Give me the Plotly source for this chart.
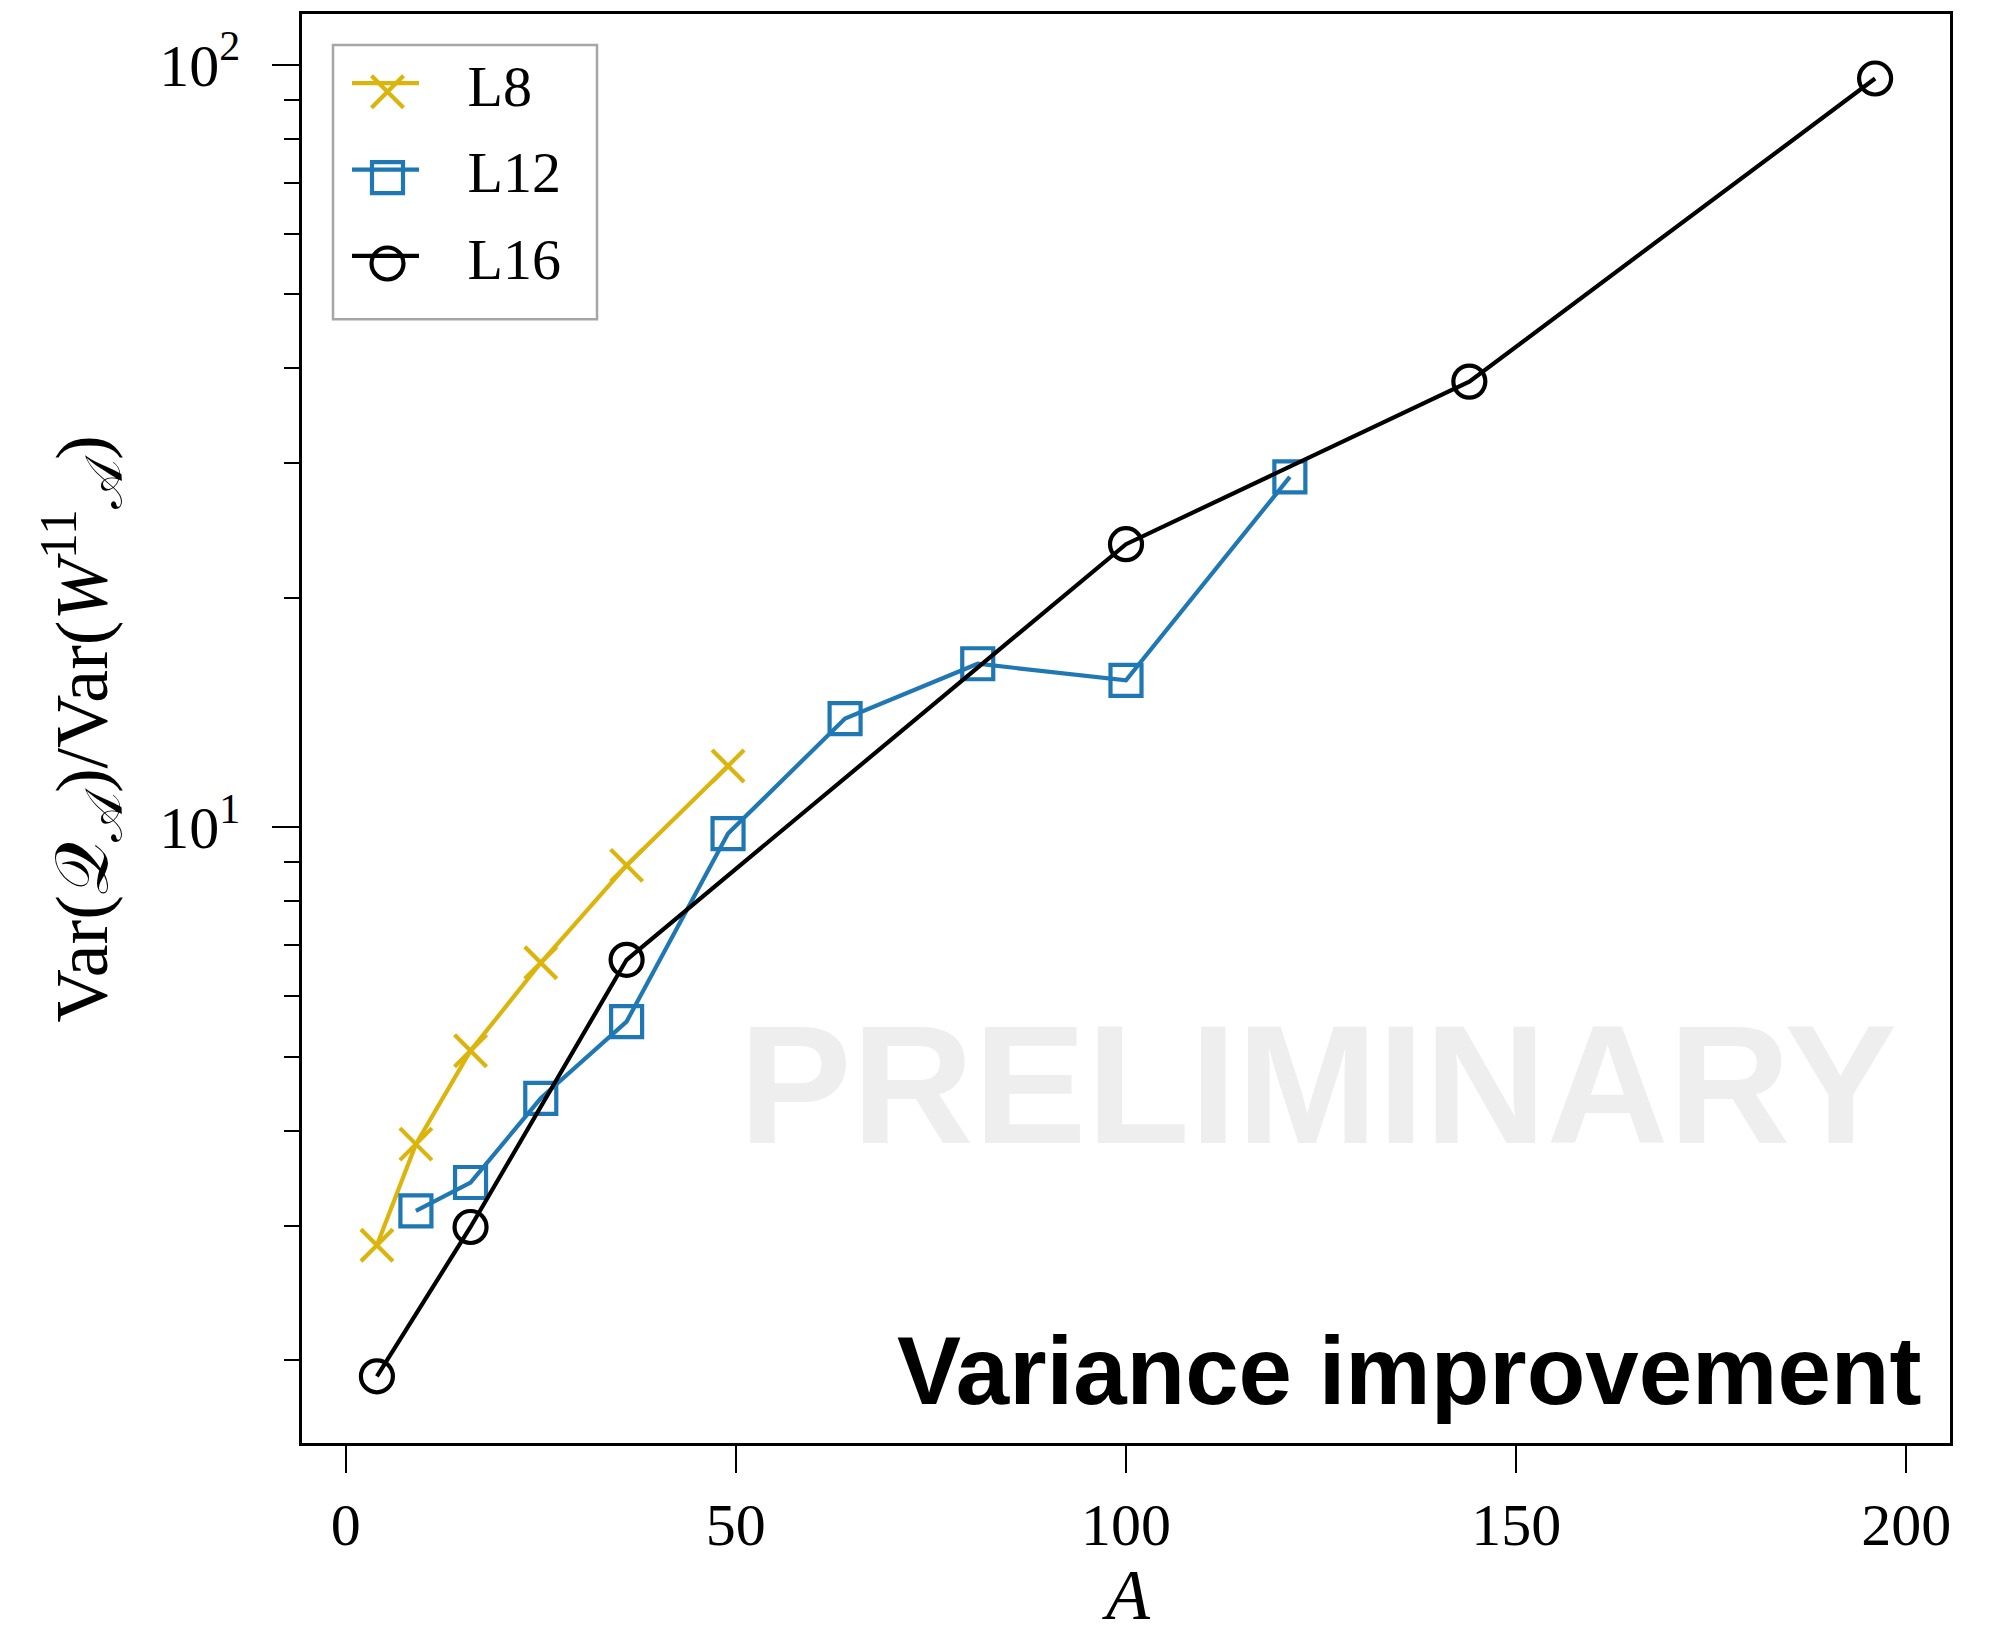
import plotly.graph_objects as go

# ---- data ----
A_L8 = [4, 9, 16, 25, 36, 49]
R_L8 = [2.83, 3.84, 5.09, 6.64, 8.91, 12.03]

A_L12 = [9, 16, 25, 36, 49, 64, 81, 100, 121]
R_L12 = [3.14, 3.42, 4.41, 5.56, 9.81, 13.88, 16.38, 15.58, 28.8]

A_L16 = [4, 16, 36, 100, 144, 196]
R_L16 = [1.905, 2.99, 6.70, 23.5, 38.4, 95.9]

SERIES_NAMES = ["L8", "L12", "L16"]

X_TICKS = [0, 50, 100, 150, 200]
Y_TICKS = [10, 100]
Y_TICKTEXT = ["10<sup>1</sup>", "10<sup>2</sup>"]
Y_MINOR = [2, 3, 4, 5, 6, 7, 8, 9, 20, 30, 40, 50, 60, 70, 80, 90, 200]

GOLD = "#DBB40C"
BLUE = "#1F77B4"
BLACK = "#000000"
SERIF = "Liberation Serif, DejaVu Serif, serif"
SANS = "Liberation Sans, Arial, sans-serif"
LW = 4.2

L, R, T, B = 302, 58, 11, 195
W, H = 2008, 1638
PW, PH = W - L - R, H - T - B


def px(x):
    return (x - L) / PW


def py(y):
    return (H - B - y) / PH


fig = go.Figure()

styles = [
    (GOLD, "x-thin-open", 32),
    (BLUE, "square-open", 31),
    (BLACK, "circle-open", 32),
]
data = [(A_L8, R_L8), (A_L12, R_L12), (A_L16, R_L16)]

# data traces
for name, (xs, ys), (col, sym, size) in zip(SERIES_NAMES, data, styles):
    fig.add_trace(go.Scatter(
        x=xs, y=ys, name=name, legendgroup=name, showlegend=False,
        mode="lines+markers",
        line=dict(color=col, width=LW),
        marker=dict(symbol=sym, size=size, color=col,
                    line=dict(color=col, width=LW)),
    ))

# legend entries (line sample + label)
for name, (col, sym, size) in zip(SERIES_NAMES, styles):
    fig.add_trace(go.Scatter(
        x=[None], y=[None], name="\u00a0\u00a0\u00a0" + name, legendgroup=name,
        showlegend=True, mode="lines",
        line=dict(color=col, width=LW),
    ))

# full-size legend markers drawn over the legend line samples
LEG_X = 387.5
LEG_ROWS = [89, 175, 261]
for (col, sym, size), ry in zip(styles, LEG_ROWS):
    fig.add_trace(go.Scatter(
        x=[px(LEG_X)], y=[py(ry)], xaxis="x2", yaxis="y2",
        mode="markers", showlegend=False, hoverinfo="skip",
        marker=dict(symbol=sym, size=size, color=col,
                    line=dict(color=col, width=LW)),
    ))

fig.update_layout(
    width=W, height=H,
    margin=dict(l=L, r=R, t=T, b=B, pad=0),
    paper_bgcolor="white", plot_bgcolor="white",
    font=dict(family=SERIF, color="black", size=60),
    showlegend=True,
    legend=dict(
        x=px(347), y=py(36), xanchor="left", yanchor="top",
        bgcolor="rgba(0,0,0,0)", borderwidth=0,
        font=dict(family=SERIF, size=58, color="black"),
        itemwidth=67, tracegroupgap=8,
    ),
    shapes=[
        dict(type="rect", xref="paper", yref="paper",
             x0=px(333), x1=px(597), y0=py(317), y1=py(42),
             line=dict(color="#a6a6a6", width=2.5), fillcolor="white",
             layer="below"),
    ],
    xaxis=dict(
        range=[-5.6, 205.6], tickmode="array", tickvals=X_TICKS,
        ticks="outside", ticklen=27, tickwidth=2, tickcolor="black",
        showline=True, linewidth=2.5, linecolor="black", mirror=True,
        showgrid=False, zeroline=False,
        tickfont=dict(family=SERIF, size=60, color="black"),
        ticklabelstandoff=0,
    ),
    yaxis=dict(
        type="log", range=[0.1924, 2.0664],
        tickmode="array", tickvals=Y_TICKS, ticktext=Y_TICKTEXT,
        ticks="outside", ticklen=27, tickwidth=2, tickcolor="black",
        minor=dict(tickmode="array", tickvals=Y_MINOR, ticks="outside",
                   ticklen=15, tickwidth=2, tickcolor="black", showgrid=False),
        showline=True, linewidth=2.5, linecolor="black", mirror=True,
        showgrid=False, zeroline=False,
        tickfont=dict(family=SERIF, size=60, color="black"),
        ticklabelstandoff=20,
    ),
    xaxis2=dict(range=[0, 1], overlaying="x", anchor="y2", visible=False,
                fixedrange=True),
    yaxis2=dict(range=[0, 1], overlaying="y", anchor="x2", visible=False,
                fixedrange=True),
    annotations=[
        dict(text="PRELIMINARY", xref="paper", yref="paper",
             x=px(1318), y=py(1084), xanchor="center", yanchor="middle",
             showarrow=False,
             font=dict(family=SANS, size=169, color="#eeeeee", weight="bold")),
        dict(text="Variance improvement", xref="paper", yref="paper",
             x=px(1923), y=py(1370), xanchor="right", yanchor="middle",
             showarrow=False,
             font=dict(family=SANS, size=96, color="black", weight="bold")),
        dict(text="<i>A</i>", xref="paper", yref="paper",
             x=px(1126), y=py(1637), xanchor="center", yanchor="bottom",
             showarrow=False,
             font=dict(family=SERIF, size=72, color="black")),
        dict(text="Var(𝒬<sub>𝒜</sub>)/Var(<i>W</i><sup>11</sup><sub>𝒜</sub>)",
             xref="paper", yref="paper", textangle=-90,
             x=px(82), y=py(728), xanchor="center", yanchor="middle",
             showarrow=False,
             font=dict(family=SERIF, size=74, color="black")),
    ],
)

fig.write_html("out.html", include_plotlyjs=True, full_html=True,
               config={"displayModeBar": False},
               post_script="document.body.style.margin='0';document.body.style.overflow='hidden';")
